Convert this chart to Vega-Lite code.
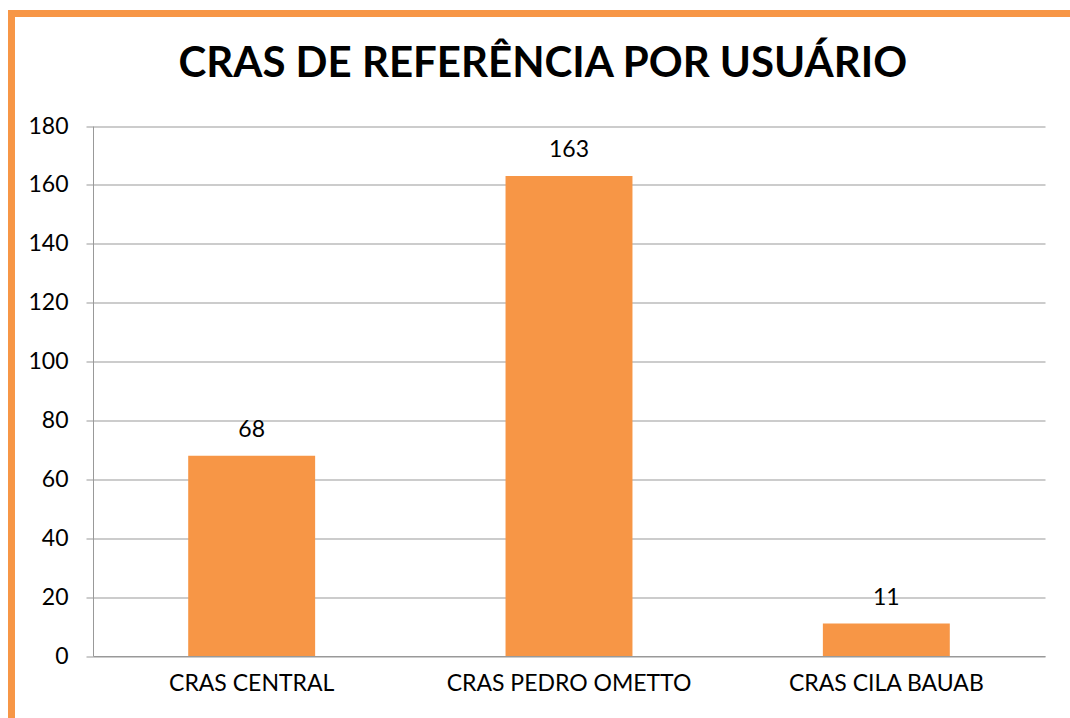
{
  "$schema": "https://vega.github.io/schema/vega-lite/v6.json",
  "autosize": {"type": "none"},
  "padding": {"left": 11.5, "top": 13.5, "right": 0, "bottom": 0},
  "width": 1058.5,
  "height": 704.5,
  "background": "white",
  "config": {
    "view": {
      "stroke": "#F79646",
      "strokeWidth": 7,
      "strokeDash": [1058.5, 1763, 704.5, 0],
      "strokeCap": "square"
    },
    "font": "Lato"
  },
  "title": {
    "text": "CRAS DE REFERÊNCIA POR USUÁRIO",
    "frame": "group",
    "anchor": "middle",
    "orient": "top",
    "baseline": "alphabetic",
    "offset": -105.5,
    "dx": 2,
    "font": "Lato",
    "fontSize": 42,
    "fontWeight": "bold",
    "color": "#000000"
  },
  "data": {
    "values": [
      {"cras": "CRAS CENTRAL", "usuarios": 68},
      {"cras": "CRAS PEDRO OMETTO", "usuarios": 163},
      {"cras": "CRAS CILA BAUAB", "usuarios": 11}
    ]
  },
  "encoding": {
    "x": {
      "field": "cras",
      "type": "nominal",
      "sort": null,
      "scale": {"range": [81.5, 1033.5], "paddingInner": 0.6, "paddingOuter": 0.3},
      "axis": {
        "title": null,
        "orient": "bottom",
        "offset": -62,
        "labelAngle": 0,
        "labelLimit": 0,
        "ticks": false,
        "grid": false,
        "domainColor": "#999999",
        "domainWidth": 1,
        "labelFont": "Lato",
        "labelFontSize": 23,
        "labelColor": "#000000",
        "labelBaseline": "alphabetic",
        "labelPadding": 34
      }
    },
    "y": {
      "field": "usuarios",
      "type": "quantitative",
      "scale": {"domain": [0, 180], "range": [642.5, 112.5], "nice": false},
      "axis": {
        "title": null,
        "orient": "left",
        "offset": -81.5,
        "values": [0, 20, 40, 60, 80, 100, 120, 140, 160, 180],
        "grid": true,
        "gridColor": "#999999",
        "gridWidth": 1,
        "domainColor": "#999999",
        "domainWidth": 1,
        "tickColor": "#999999",
        "tickSize": 7,
        "tickWidth": 1,
        "labelFont": "Lato",
        "labelFontSize": 23,
        "labelColor": "#000000",
        "labelPadding": 18,
        "labelBaseline": "middle"
      }
    }
  },
  "layer": [
    {"mark": {"type": "bar", "color": "#F79646"}},
    {
      "mark": {"type": "text", "baseline": "alphabetic", "dy": -19, "font": "Lato", "fontSize": 23, "color": "#000000"},
      "encoding": {"text": {"field": "usuarios", "type": "quantitative"}}
    }
  ]
}
